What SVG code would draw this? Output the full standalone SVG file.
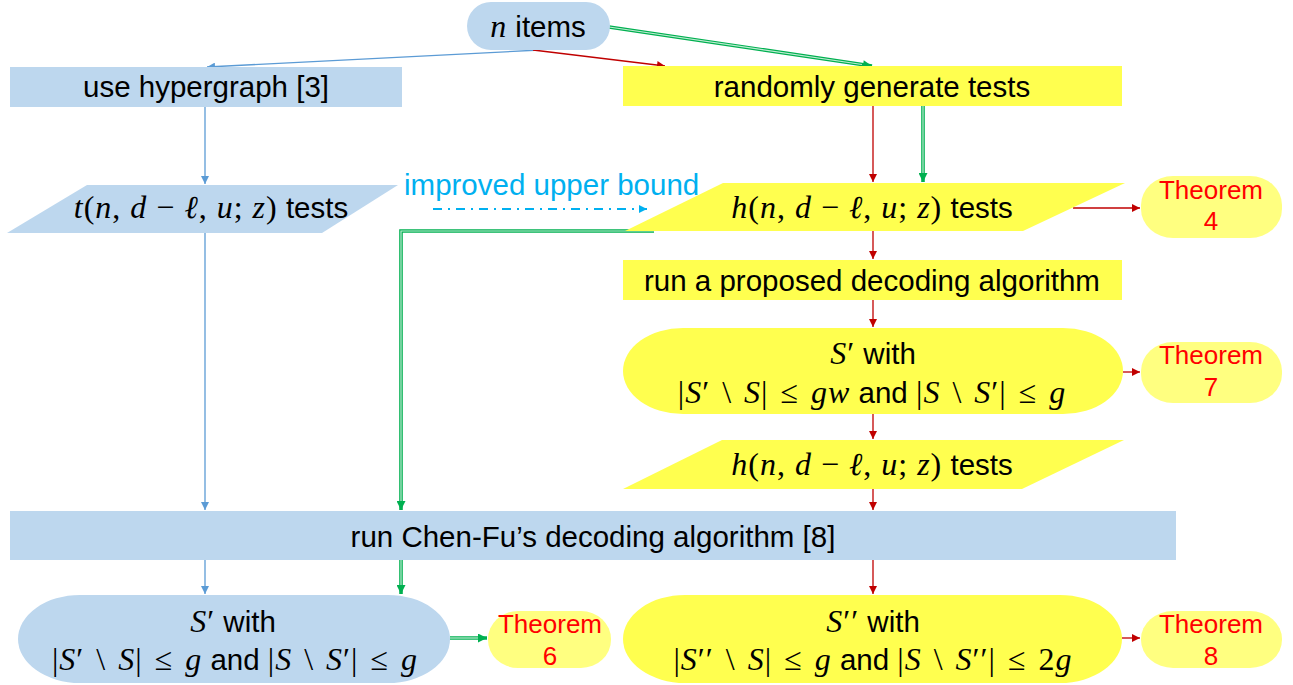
<svg xmlns="http://www.w3.org/2000/svg" width="1293" height="685" viewBox="0 0 1293 685">
<style>
.sans{font-family:"Liberation Sans",Arial,sans-serif;font-size:29.5px;fill:#000}
.m{font-family:"Liberation Serif","DejaVu Serif",serif;font-style:italic;font-size:32px;letter-spacing:1px}
.u{font-family:"Liberation Serif","DejaVu Serif",serif;font-style:normal;font-size:32px;letter-spacing:1px}
.thm{font-family:"Liberation Sans",Arial,sans-serif;font-size:26px;fill:#FF0000;text-anchor:middle}
.blue{fill:#BDD7EE}
.yel{fill:#FFFF4F}
.thf{fill:#FFFF80}
.lb{stroke:#5B9BD5;stroke-width:1.3;fill:none}
.lr{stroke:#C00000;stroke-width:1.3;fill:none}
.lg{stroke:#00B050;stroke-width:3.6;fill:none}
.lgi{stroke:#FFFFFF;stroke-width:1.2;fill:none;opacity:0.75}
</style>
<defs>
<marker id="ab" viewBox="0 0 10 10" refX="10" refY="5" markerWidth="9" markerHeight="8" markerUnits="userSpaceOnUse" orient="auto"><path d="M0,0 L10,5 L0,10 z" fill="#5B9BD5"/></marker>
<marker id="ar" viewBox="0 0 10 10" refX="10" refY="5" markerWidth="9" markerHeight="8" markerUnits="userSpaceOnUse" orient="auto"><path d="M0,0 L10,5 L0,10 z" fill="#C00000"/></marker>
<marker id="ag" viewBox="0 0 10 10" refX="10" refY="5" markerWidth="10" markerHeight="9" markerUnits="userSpaceOnUse" orient="auto"><path d="M0,0 L10,5 L0,10 z" fill="#00B050"/></marker>
<marker id="ac" viewBox="0 0 10 10" refX="10" refY="5" markerWidth="9" markerHeight="8" markerUnits="userSpaceOnUse" orient="auto"><path d="M0,0 L10,5 L0,10 z" fill="#00B0F0"/></marker>
</defs>
<rect width="1293" height="685" fill="#FFFFFF"/>

<g id="connectors">
<path class="lb" d="M540,50 L207,67" marker-end="url(#ab)"/>
<path class="lb" d="M205,107 L205,184" marker-end="url(#ab)"/>
<path class="lb" d="M205,233 L205,510" marker-end="url(#ab)"/>
<path class="lb" d="M205,560 L205,594" marker-end="url(#ab)"/>
<path class="lr" d="M533,50 L665,66" marker-end="url(#ar)"/>
<path class="lr" d="M873,106 L873,182" marker-end="url(#ar)"/>
<path class="lr" d="M1073,208 L1140,208" marker-end="url(#ar)"/>
<path class="lr" d="M873,231 L873,259" marker-end="url(#ar)"/>
<path class="lr" d="M873,300 L873,327" marker-end="url(#ar)"/>
<path class="lr" d="M1123,372 L1140,372" marker-end="url(#ar)"/>
<path class="lr" d="M873,414 L873,439" marker-end="url(#ar)"/>
<path class="lr" d="M873,489 L873,510" marker-end="url(#ar)"/>
<path class="lr" d="M873,560 L873,594" marker-end="url(#ar)"/>
<path class="lr" d="M1122,638 L1140,638" marker-end="url(#ar)"/>
<path class="lg" d="M609,27 L872,66" marker-end="url(#ag)"/>
<path class="lgi" d="M609,27 L862,64.5"/>
<path class="lg" d="M923,106 L923,182" marker-end="url(#ag)"/>
<path class="lgi" d="M923,106 L923,173"/>
<path class="lg" d="M654,231 L401,231 L401,510" marker-end="url(#ag)"/>
<path class="lgi" d="M654,231 L401,231 L401,501"/>
<path class="lg" d="M401,560 L401,594" marker-end="url(#ag)"/>
<path class="lgi" d="M401,560 L401,585"/>
<path class="lg" d="M450,638 L487,638" marker-end="url(#ag)"/>
<path class="lgi" d="M450,638 L478,638"/>
<path d="M433,209 L647,209" stroke="#00B0F0" stroke-width="2" fill="none" stroke-dasharray="9,6,2,6" marker-end="url(#ac)"/>
</g>

<g id="n-items">
<rect x="467" y="2" width="143" height="48" rx="24" class="blue"/>
<text x="538" y="37" class="sans" text-anchor="middle"><tspan class="m">n</tspan> items</text>
</g>

<g id="use-hypergraph">
<rect x="10" y="67" width="392" height="40" class="blue"/>
<text x="206" y="97" class="sans" text-anchor="middle">use hypergraph [3]</text>
</g>

<g id="randomly-generate">
<rect x="623" y="66" width="499" height="40" class="yel"/>
<text x="872" y="97" class="sans" text-anchor="middle">randomly generate tests</text>
</g>

<g id="t-tests">
<polygon points="87,185 398,185 322,233 7,233" class="blue"/>
<text x="211" y="218" class="sans" text-anchor="middle"><tspan class="m">t</tspan><tspan class="u">(</tspan><tspan class="m">n</tspan><tspan class="u">, </tspan><tspan class="m">d</tspan><tspan class="u"> − </tspan><tspan class="m">ℓ</tspan><tspan class="u">, </tspan><tspan class="m">u</tspan><tspan class="u">; </tspan><tspan class="m">z</tspan><tspan class="u">)</tspan> tests</text>
</g>

<g id="improved-label">
<text x="404" y="195" class="sans" style="fill:#00B0F0">improved upper bound</text>
</g>

<g id="h-tests-1">
<polygon points="723,183 1125,183 1023,231 625,231" class="yel"/>
<text x="872" y="218" class="sans" text-anchor="middle"><tspan class="m">h</tspan><tspan class="u">(</tspan><tspan class="m">n</tspan><tspan class="u">, </tspan><tspan class="m">d</tspan><tspan class="u"> − </tspan><tspan class="m">ℓ</tspan><tspan class="u">, </tspan><tspan class="m">u</tspan><tspan class="u">; </tspan><tspan class="m">z</tspan><tspan class="u">)</tspan> tests</text>
</g>

<g id="theorem-4">
<rect x="1141" y="176" width="141" height="62" rx="32" ry="29" class="thf"/>
<text x="1211" y="199" class="thm">Theorem</text>
<text x="1211" y="230" class="thm">4</text>
</g>

<g id="run-proposed">
<rect x="623" y="260" width="499" height="40" class="yel"/>
<text x="872" y="291" class="sans" text-anchor="middle">run a proposed decoding algorithm</text>
</g>

<g id="s-prime-yellow">
<rect x="623" y="328" width="500" height="86" rx="60" ry="43" class="yel"/>
<text x="873" y="364" class="sans" text-anchor="middle"><tspan class="m">S</tspan><tspan class="u">′</tspan> with</text>
<text x="872" y="403" class="sans" text-anchor="middle"><tspan class="u">|</tspan><tspan class="m">S</tspan><tspan class="u">′</tspan><tspan class="u" dx="12">\</tspan><tspan class="m" dx="12">S</tspan><tspan class="u">|</tspan><tspan class="u" dx="12">≤</tspan><tspan class="m" dx="12">gw</tspan> and <tspan class="u">|</tspan><tspan class="m">S</tspan><tspan class="u" dx="12">\</tspan><tspan class="m" dx="12">S</tspan><tspan class="u">′|</tspan><tspan class="u" dx="12">≤</tspan><tspan class="m" dx="12">g</tspan></text>
</g>

<g id="theorem-7">
<rect x="1141" y="342" width="141" height="61" rx="32" ry="29" class="thf"/>
<text x="1211" y="364" class="thm">Theorem</text>
<text x="1211" y="396" class="thm">7</text>
</g>

<g id="h-tests-2">
<polygon points="722,440 1124,440 1022,489 623,489" class="yel"/>
<text x="872" y="475" class="sans" text-anchor="middle"><tspan class="m">h</tspan><tspan class="u">(</tspan><tspan class="m">n</tspan><tspan class="u">, </tspan><tspan class="m">d</tspan><tspan class="u"> − </tspan><tspan class="m">ℓ</tspan><tspan class="u">, </tspan><tspan class="m">u</tspan><tspan class="u">; </tspan><tspan class="m">z</tspan><tspan class="u">)</tspan> tests</text>
</g>

<g id="chen-fu">
<rect x="10" y="511" width="1166" height="49" class="blue"/>
<text x="593" y="547" class="sans" text-anchor="middle">run Chen-Fu’s decoding algorithm [8]</text>
</g>

<g id="s-prime-blue">
<rect x="18" y="595" width="432" height="88" rx="62" ry="44" class="blue"/>
<text x="233" y="632" class="sans" text-anchor="middle"><tspan class="m">S</tspan><tspan class="u">′</tspan> with</text>
<text x="235" y="670" class="sans" text-anchor="middle"><tspan class="u">|</tspan><tspan class="m">S</tspan><tspan class="u">′</tspan><tspan class="u" dx="12">\</tspan><tspan class="m" dx="12">S</tspan><tspan class="u">|</tspan><tspan class="u" dx="12">≤</tspan><tspan class="m" dx="12">g</tspan> and <tspan class="u">|</tspan><tspan class="m">S</tspan><tspan class="u" dx="12">\</tspan><tspan class="m" dx="12">S</tspan><tspan class="u">′|</tspan><tspan class="u" dx="12">≤</tspan><tspan class="m" dx="12">g</tspan></text>
</g>

<g id="theorem-6">
<rect x="488" y="611" width="123" height="57" rx="30" ry="28" class="thf"/>
<text x="550" y="633" class="thm">Theorem</text>
<text x="550" y="665" class="thm">6</text>
</g>

<g id="s-double-prime">
<rect x="623" y="595" width="499" height="88" rx="62" ry="44" class="yel"/>
<text x="873" y="632" class="sans" text-anchor="middle"><tspan class="m">S</tspan><tspan class="u">′′</tspan> with</text>
<text x="873" y="670" class="sans" text-anchor="middle"><tspan class="u">|</tspan><tspan class="m">S</tspan><tspan class="u">′′</tspan><tspan class="u" dx="12">\</tspan><tspan class="m" dx="12">S</tspan><tspan class="u">|</tspan><tspan class="u" dx="12">≤</tspan><tspan class="m" dx="12">g</tspan> and <tspan class="u">|</tspan><tspan class="m">S</tspan><tspan class="u" dx="12">\</tspan><tspan class="m" dx="12">S</tspan><tspan class="u">′′|</tspan><tspan class="u" dx="12">≤</tspan><tspan class="u" dx="12">2</tspan><tspan class="m">g</tspan></text>
</g>

<g id="theorem-8">
<rect x="1141" y="611" width="141" height="57" rx="32" ry="28" class="thf"/>
<text x="1211" y="633" class="thm">Theorem</text>
<text x="1211" y="665" class="thm">8</text>
</g>
</svg>
